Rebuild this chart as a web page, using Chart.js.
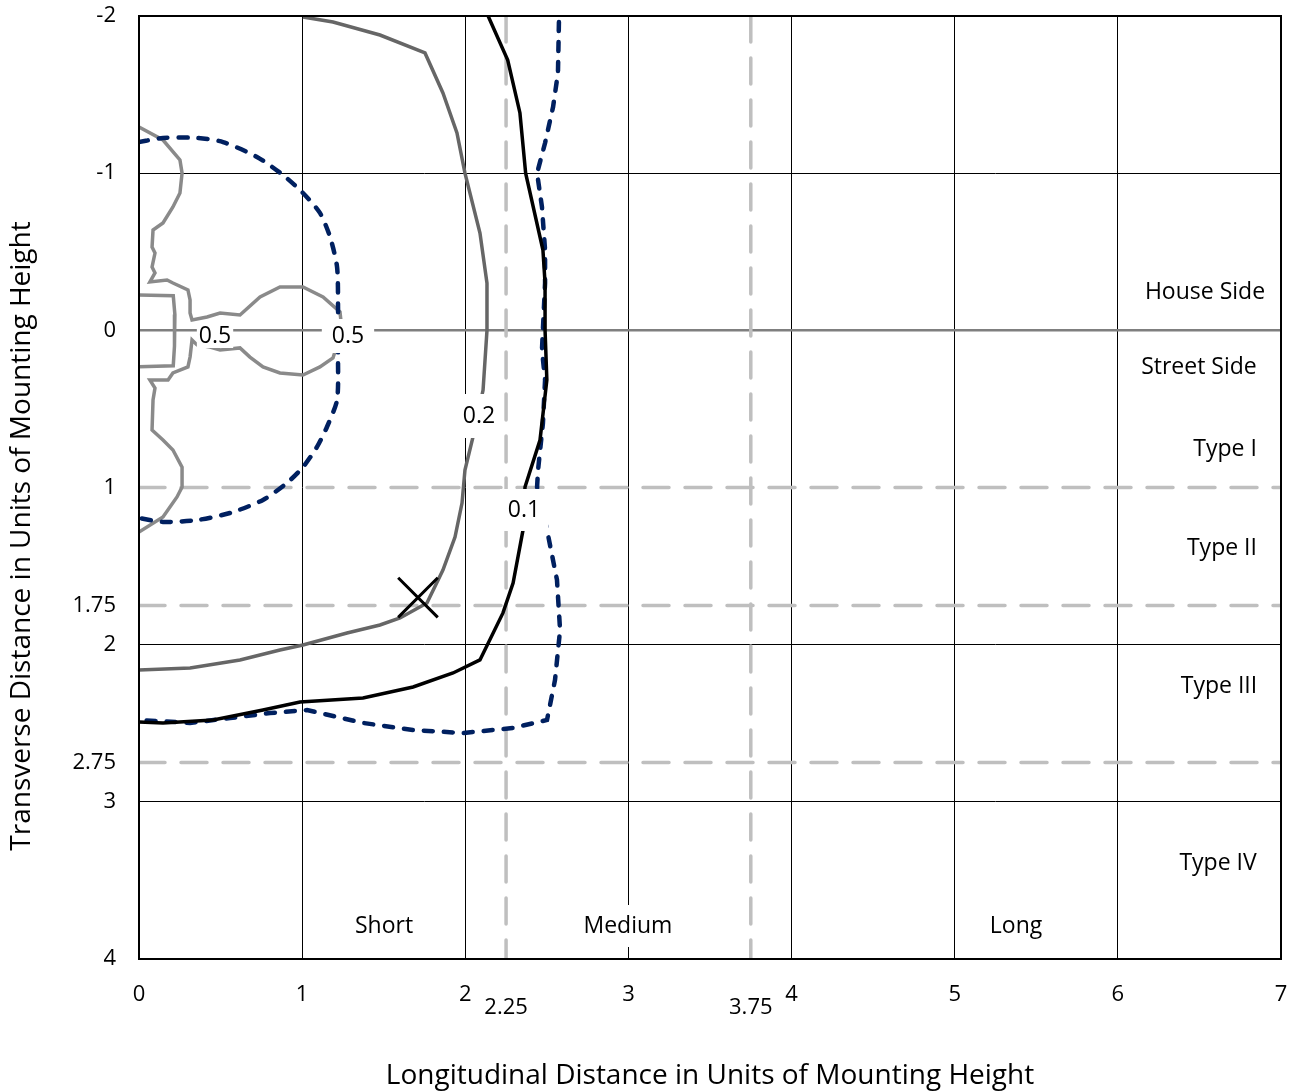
<!DOCTYPE html>
<html>
<head>
<meta charset="utf-8">
<script src="https://cdn.jsdelivr.net/npm/chart.js@4.4.1/dist/chart.umd.min.js"></script>
<style>
  html, body { margin: 0; padding: 0; background: #fff; }
  #wrap { width: 1294px; height: 1091px; }
</style>
</head>
<body>
<div id="wrap"><canvas id="grafico" width="1294" height="1091"></canvas></div>
<script>
// ticks of both axes (units of mounting height)
const ejeXTicks = [0, 1, 2, 2.25, 3, 3.75, 4, 5, 6, 7];
const ejeYTicks = [-2, -1, 0, 1, 1.75, 2, 2.75, 3, 4];
const ticksXBajos = [2.25, 3.75];
const limitesTipo = [1, 1.75, 2.75];
const limitesLongitud = [2.25, 3.75];

// isolux lines, [x, y] pairs
const isolinea01 = [[2.14,-2.0],[2.26,-1.72],[2.335,-1.383],[2.37,-1.0],[2.476,-0.511],[2.489,-0.3],[2.489,0],[2.50,0.316],[2.458,0.698],[2.366,0.997],[2.354,1.27],[2.293,1.608],[2.231,1.798],[2.09,2.097],[1.925,2.18],[1.68,2.269],[1.373,2.339],[0.987,2.365],[0.76,2.416],[0.454,2.479],[0.147,2.498],[0,2.492]];
const isolinea01Azul = [[2.574,-1.962],[2.568,-1.637],[2.538,-1.421],[2.489,-1.192],[2.44,-1.0],[2.47,-0.785],[2.489,-0.511],[2.489,-0.3],[2.47,0.125],[2.489,0.316],[2.476,0.59],[2.446,0.889],[2.44,0.997],[2.501,1.27],[2.562,1.588],[2.581,1.907],[2.55,2.225],[2.501,2.479],[2.292,2.53],[1.986,2.562],[1.68,2.543],[1.373,2.498],[1.03,2.416],[0.803,2.435],[0.558,2.467],[0.313,2.498],[0,2.479]];
const isolinea02 = [[1.005,-1.994],[1.189,-1.962],[1.477,-1.879],[1.753,-1.765],[1.863,-1.51],[1.949,-1.256],[1.998,-1.0],[2.09,-0.619],[2.133,-0.3],[2.133,0],[2.109,0.38],[2.047,0.679],[1.998,0.889],[1.98,1.099],[1.937,1.315],[1.863,1.525],[1.765,1.735],[1.6,1.83],[1.477,1.875],[1.275,1.926],[1.005,2.002],[0.864,2.034],[0.619,2.098],[0.313,2.148],[0,2.161]];
const isolinea05Azul = [[0,-1.198],[0.147,-1.224],[0.356,-1.224],[0.515,-1.198],[0.723,-1.103],[0.883,-0.988],[1.005,-0.874],[1.109,-0.747],[1.171,-0.594],[1.214,-0.403],[1.22,-0.149],[1.22,0.176],[1.214,0.443],[1.152,0.615],[1.091,0.742],[1.005,0.87],[0.907,0.971],[0.76,1.079],[0.558,1.162],[0.356,1.207],[0.147,1.219],[0,1.194]];
const isolinea05 = [[0,-1.294],[0.147,-1.211],[0.251,-1.084],[0.264,-1.0],[0.251,-0.874],[0.208,-0.785],[0.147,-0.683],[0.086,-0.638],[0.08,-0.53],[0.098,-0.492],[0.08,-0.403],[0.098,-0.365],[0.067,-0.308],[0.172,-0.32],[0.208,-0.301],[0.3,-0.257],[0.313,-0.193],[0.313,-0.11],[0.325,-0.066],[0.417,-0.085],[0.497,-0.11],[0.619,-0.098],[0.742,-0.212],[0.864,-0.276],[1.005,-0.276],[1.128,-0.212],[1.232,-0.117],[1.244,0],[1.189,0.176],[1.109,0.233],[1.005,0.284],[0.864,0.271],[0.76,0.233],[0.68,0.17],[0.619,0.112],[0.497,0.125],[0.435,0.106],[0.356,0.093],[0.325,0.061],[0.313,0.17],[0.3,0.233],[0.208,0.271],[0.178,0.316],[0.067,0.316],[0.098,0.367],[0.086,0.443],[0.08,0.634],[0.147,0.698],[0.208,0.761],[0.264,0.87],[0.264,0.997],[0.233,1.06],[0.147,1.188],[0,1.283]];
const isolinea05Interior = [[0,-0.225],[0.21,-0.22],[0.22,-0.1],[0.22,0],[0.215,0.1],[0.21,0.225],[0,0.232]];
const marcaX = [[1.71, 1.70]];

// text placed on the plot
const etiquetas = [
  { texto: '0.5', x: 0.466, y: 0.036, px: 2, py: 1 },
  { texto: '0.5', x: 1.281, y: 0.036, px: 10, py: 6 },
  { texto: '0.2', x: 2.084, y: 0.545, px: 6, py: 11 },
  { texto: '0.1', x: 2.36, y: 1.143, px: 8, py: 10 },
  { texto: 'House Side', x: 6.534, y: -0.238, px: 4, py: 4 },
  { texto: 'Street Side', x: 6.497, y: 0.233, px: 4, py: 4 },
  { texto: 'Type I', x: 6.657, y: 0.761, px: 4, py: 4 },
  { texto: 'Type II', x: 6.638, y: 1.385, px: 4, py: 4 },
  { texto: 'Type III', x: 6.62, y: 2.263, px: 4, py: 4 },
  { texto: 'Type IV', x: 6.614, y: 3.389, px: 4, py: 4 },
  { texto: 'Short', x: 1.502, y: 3.79, px: 4, py: 10 },
  { texto: 'Medium', x: 2.997, y: 3.79, px: 4, py: 10 },
  { texto: 'Long', x: 5.376, y: 3.79, px: 4, py: 10 }
];

const FUENTE = "'Open Sans', 'Liberation Sans', sans-serif";
Chart.defaults.font.family = FUENTE;
Chart.defaults.color = '#000';

function puntos(arr) {
  return arr.map(p => ({ x: p[0], y: p[1] }));
}

const datasets = [];

// dashed classification lines (behind everything)
limitesLongitud.forEach(v => {
  datasets.push({ data: [{ x: v, y: -2 }, { x: v, y: 4 }], borderColor: '#bfbfbf', borderWidth: 3.5,
    borderDash: [26, 16], borderCapStyle: 'round', pointRadius: 0, showLine: true, order: 10 });
});
limitesTipo.forEach(v => {
  datasets.push({ data: [{ x: 0, y: v }, { x: 7, y: v }], borderColor: '#bfbfbf', borderWidth: 3.5,
    borderDash: [26, 16], borderCapStyle: 'round', pointRadius: 0, showLine: true, order: 10 });
});

datasets.push({ data: puntos(isolinea05), borderColor: '#8a8a8a', borderWidth: 3.5, pointRadius: 0, showLine: true, order: 5 });
datasets.push({ data: puntos(isolinea05Interior), borderColor: '#8a8a8a', borderWidth: 3.5, pointRadius: 0, showLine: true, order: 5 });
datasets.push({ data: puntos(isolinea02), borderColor: '#666666', borderWidth: 3.5, pointRadius: 0, showLine: true, order: 4 });
datasets.push({ data: puntos(isolinea05Azul), borderColor: '#002060', borderWidth: 4.5, borderDash: [9, 11],
  borderCapStyle: 'round', pointRadius: 0, showLine: true, tension: 0.25, order: 3 });
datasets.push({ data: puntos(isolinea01Azul), borderColor: '#002060', borderWidth: 4.5, borderDash: [9, 11],
  borderCapStyle: 'round', pointRadius: 0, showLine: true, order: 3 });
datasets.push({ data: puntos(isolinea01), borderColor: '#000', borderWidth: 3.5, pointRadius: 0, showLine: true, order: 2 });
datasets.push({ data: puntos(marcaX), borderColor: '#000', borderWidth: 3, pointStyle: 'crossRot',
  pointRadius: 28, showLine: false, order: 1 });

const decoracion = {
  id: 'decoracion',
  afterDatasetsDraw(chart) {
    const { ctx, chartArea: a, scales } = chart;
    ctx.save();
    ctx.strokeStyle = '#000';
    ctx.lineWidth = 2;
    ctx.strokeRect(a.left, a.top, a.right - a.left, a.bottom - a.top);

    ctx.font = '23px ' + FUENTE;
    ctx.textAlign = 'center';
    ctx.textBaseline = 'middle';
    etiquetas.forEach(e => {
      const px = scales.x.getPixelForValue(e.x);
      const py = scales.y.getPixelForValue(e.y);
      const w = ctx.measureText(e.texto).width + 2 * e.px;
      const h = 22 + 2 * e.py;
      ctx.fillStyle = '#fff';
      ctx.fillRect(px - w / 2, py - h / 2, w, h);
      ctx.fillStyle = '#000';
      ctx.fillText(e.texto, px, py);
    });

    // lower x tick labels
    ctx.font = '22px ' + FUENTE;
    ticksXBajos.forEach(v => {
      ctx.fillText(String(v), scales.x.getPixelForValue(v), a.bottom + 49);
    });
    ctx.restore();
  },
  afterDraw(chart) {
    const { ctx } = chart;
    ctx.save();
    ctx.translate(22, 536);
    ctx.rotate(-Math.PI / 2);
    ctx.font = '28px ' + FUENTE;
    ctx.fillStyle = '#000';
    ctx.textAlign = 'center';
    ctx.textBaseline = 'middle';
    ctx.fillText('Transverse Distance in Units of Mounting Height', 0, 0);
    ctx.restore();
  }
};

new Chart(document.getElementById('grafico').getContext('2d'), {
  type: 'scatter',
  data: { datasets: datasets },
  options: {
    responsive: false,
    animation: false,
    devicePixelRatio: 1,
    layout: { autoPadding: false, padding: { top: 16, right: 13, left: 0, bottom: 0 } },
    plugins: { legend: { display: false }, tooltip: { enabled: false } },
    elements: { line: { tension: 0 } },
    scales: {
      x: {
        type: 'linear', min: 0, max: 7,
        afterBuildTicks: scale => { scale.ticks = ejeXTicks.map(v => ({ value: v })); },
        afterFit: scale => { scale.height = 132; scale.paddingLeft = 0; scale.paddingRight = 0; },
        ticks: { padding: 23, font: { size: 22 }, color: '#000',
          callback: v => ticksXBajos.includes(v) ? '' : String(v) },
        grid: { drawTicks: false, lineWidth: 1,
          color: c => (c.tick && limitesLongitud.includes(c.tick.value)) ? 'rgba(0,0,0,0)' : '#000' },
        border: { display: false },
        title: { display: true, text: 'Longitudinal Distance in Units of Mounting Height',
          font: { size: 28 }, color: '#000', padding: { top: 0, bottom: -2 } }
      },
      y: {
        type: 'linear', min: -2, max: 4, reverse: true,
        afterBuildTicks: scale => { scale.ticks = ejeYTicks.map(v => ({ value: v })); },
        afterFit: scale => { scale.width = 139; scale.paddingTop = 0; scale.paddingBottom = 0; },
        ticks: { padding: 23, font: { size: 22 }, color: '#000', callback: v => String(v) },
        grid: { drawTicks: false,
          lineWidth: c => (c.tick && c.tick.value === 0) ? 2.5 : 1,
          color: c => {
            const v = c.tick && c.tick.value;
            if (v === 0) return '#7f7f7f';
            if (limitesTipo.includes(v)) return 'rgba(0,0,0,0)';
            return '#000';
          } },
        border: { display: false }
      }
    }
  },
  plugins: [decoracion]
});
</script>
</body>
</html>
